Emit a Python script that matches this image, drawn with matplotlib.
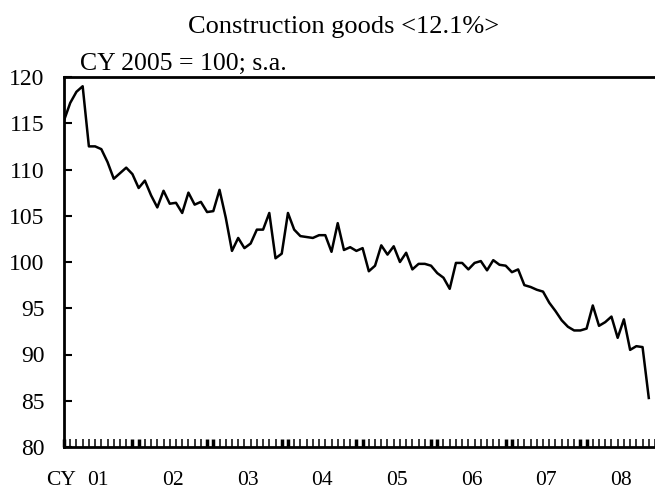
import matplotlib
matplotlib.use("Agg")
import matplotlib.pyplot as plt
import numpy as np

# monthly index, CY 2005 = 100, Jan 2001 .. Nov 2008
values = [115.3, 117.2, 118.4, 119.0, 112.5, 112.5, 112.2, 110.8, 109.0, 109.6, 110.2, 109.5,
          108.0, 108.8, 107.2, 105.9, 107.7, 106.3, 106.4, 105.3, 107.5, 106.2, 106.5, 105.4,
          105.5, 107.8, 104.8, 101.2, 102.6, 101.5, 102.0, 103.5, 103.5, 105.3, 100.4, 100.9,
          105.3, 103.5, 102.8, 102.7, 102.6, 102.9, 102.9, 101.1, 104.2, 101.3, 101.6, 101.2,
          101.5, 99.0, 99.6, 101.8, 100.8, 101.7, 100.0, 101.0, 99.2, 99.8, 99.8, 99.6,
          98.8, 98.3, 97.1, 99.9, 99.9, 99.2, 99.9, 100.1, 99.1, 100.2, 99.7, 99.6,
          98.9, 99.2, 97.5, 97.3, 97.0, 96.8, 95.6, 94.7, 93.7, 93.0, 92.6, 92.6,
          92.8, 95.3, 93.1, 93.5, 94.1, 91.8, 93.8, 90.5, 90.9, 90.8, 85.3]
year_labels = ['01', '02', '03', '04', '05', '06', '07', '08']

plt.rcParams['font.family'] = ['Liberation Serif', 'DejaVu Serif']

fig = plt.figure(figsize=(6.55, 4.91), dpi=100)
ax = fig.add_axes([64 / 655, 1 - 447 / 491, 1 - 64 / 655, (447 - 77) / 491])

x = np.arange(len(values))
ax.plot(x, values, color='black', lw=1.8)

ax.set_ylim(80, 120)
ax.set_xlim(0, 94.3)
ax.set_yticks(np.arange(80, 121, 5))
ax.tick_params(axis='y', direction='in', length=6, width=1.5, labelsize=17, pad=14)

# thick ticks around each year boundary, thin ticks every month
major = [0]
for k in range(1, len(year_labels)):
    major += [12 * k - 1, 12 * k]
ax.set_xticks(major, labels=[])
ax.set_xticks(np.arange(len(values) + 1), minor=True)
ax.tick_params(axis='x', which='major', direction='in', length=6, width=2.5)
ax.tick_params(axis='x', which='minor', direction='in', length=5.5, width=1.1)

for k, lab in enumerate(year_labels):
    ax.text(12 * k + 5.5, -0.09, lab, transform=ax.get_xaxis_transform(),
            ha='center', va='center', fontsize=15.5)
ax.text(-0.55, -0.09, 'CY', transform=ax.get_xaxis_transform(),
        ha='center', va='center', fontsize=15.5)

ax.spines['right'].set_visible(False)
for s in ['top', 'left', 'bottom']:
    ax.spines[s].set_linewidth(2)

fig.text(344 / 655, 1 - 27 / 491, 'Construction goods <12.1%>', ha='center', va='center', fontsize=19)
fig.text(80 / 655, 1 - 64 / 491, 'CY 2005 = 100; s.a.', ha='left', va='center', fontsize=18.5)

fig.savefig('out.png', dpi=100)
